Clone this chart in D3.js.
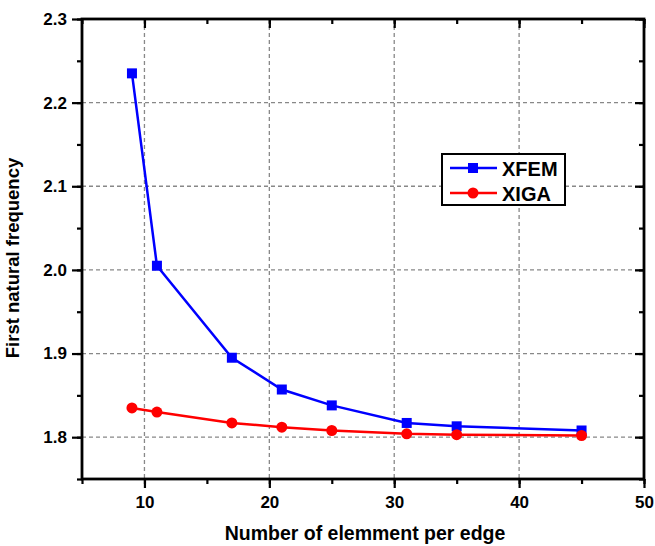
<!DOCTYPE html>
<html>
<head>
<meta charset="utf-8">
<script src="https://cdn.jsdelivr.net/npm/d3@7"></script>
<style>
  body { margin: 0; background: #fff; }
  text { font-family: "Liberation Sans", Arial, sans-serif; font-weight: bold; }
</style>
</head>
<body>
<svg id="chart" width="655" height="546"></svg>
<script>
var elements = [9, 11, 17, 21, 25, 31, 35, 45];
var xfem = [2.235, 2.005, 1.895, 1.857, 1.838, 1.817, 1.813, 1.808];
var xiga = [1.835, 1.830, 1.817, 1.812, 1.808, 1.804, 1.803, 1.802];
var xTicks = [10, 20, 30, 40, 50];
var yTicks = [1.8, 1.9, 2.0, 2.1, 2.2, 2.3];

var plotL = 82, plotR = 644, plotT = 19, plotB = 479;

var svg = d3.select("#chart");

var x = d3.scaleLinear().domain([5, 50]).range([plotL, plotR]);
var y = d3.scaleLinear().domain([1.75, 2.3]).range([plotB, plotT]);

// grid
var grid = svg.append("g")
    .attr("stroke", "#888")
    .attr("stroke-width", 1.3)
    .attr("stroke-dasharray", "4,3");
grid.selectAll("line.v").data([10, 20, 30, 40]).enter().append("line")
    .attr("x1", d => x(d)).attr("x2", d => x(d))
    .attr("y1", plotT).attr("y2", plotB);
grid.selectAll("line.h").data([1.8, 1.9, 2.0, 2.1, 2.2]).enter().append("line")
    .attr("x1", plotL).attr("x2", plotR)
    .attr("y1", d => y(d)).attr("y2", d => y(d));

// axes
function styleAxis(g){
    g.select(".domain").remove();
    g.selectAll("line").attr("stroke", "#000").attr("stroke-width", 2.2);
    g.selectAll("text").attr("font-size", 17).attr("fill", "#000");
}
var xMinor = d3.range(5, 51, 5);
var yMinor = d3.range(1.75, 2.301, 0.05);

svg.append("g").attr("transform", "translate(0," + plotB + ")")
    .call(d3.axisBottom(x).tickValues(xMinor).tickSize(5).tickFormat(""))
    .call(styleAxis);
svg.append("g").attr("transform", "translate(0," + plotB + ")")
    .call(d3.axisBottom(x).tickValues(xTicks).tickSize(9).tickPadding(8).tickFormat(d3.format("d")))
    .call(styleAxis);
svg.append("g").attr("transform", "translate(0," + plotT + ")")
    .call(d3.axisTop(x).tickValues(xMinor).tickSize(-5).tickFormat(""))
    .call(styleAxis);
svg.append("g").attr("transform", "translate(0," + plotT + ")")
    .call(d3.axisTop(x).tickValues(xTicks).tickSize(-9).tickFormat(""))
    .call(styleAxis);

svg.append("g").attr("transform", "translate(" + plotL + ",0)")
    .call(d3.axisLeft(y).tickValues(yMinor).tickSize(5).tickFormat(""))
    .call(styleAxis);
svg.append("g").attr("transform", "translate(" + plotL + ",0)")
    .call(d3.axisLeft(y).tickValues(yTicks).tickSize(10).tickPadding(5).tickFormat(d3.format(".1f")))
    .call(styleAxis);
svg.append("g").attr("transform", "translate(" + plotR + ",0)")
    .call(d3.axisRight(y).tickValues(yMinor).tickSize(-5).tickFormat(""))
    .call(styleAxis);
svg.append("g").attr("transform", "translate(" + plotR + ",0)")
    .call(d3.axisRight(y).tickValues(yTicks).tickSize(-9).tickFormat(""))
    .call(styleAxis);

svg.append("rect")
    .attr("x", plotL).attr("y", plotT)
    .attr("width", plotR - plotL).attr("height", plotB - plotT)
    .attr("fill", "none").attr("stroke", "#000").attr("stroke-width", 2.8);

// series
var line = d3.line().x(d => x(d[0])).y(d => y(d[1]));
var xfemPts = elements.map((e, i) => [e, xfem[i]]);
var xigaPts = elements.map((e, i) => [e, xiga[i]]);

svg.append("path").datum(xigaPts).attr("d", line)
    .attr("fill", "none").attr("stroke", "#ff0000").attr("stroke-width", 2.5);
svg.append("path").datum(xfemPts).attr("d", line)
    .attr("fill", "none").attr("stroke", "#0000ff").attr("stroke-width", 2.5);

svg.selectAll("rect.xfem").data(xfemPts).enter().append("rect")
    .attr("x", d => x(d[0]) - 5).attr("y", d => y(d[1]) - 5)
    .attr("width", 10).attr("height", 10).attr("fill", "#0000ff");
svg.selectAll("circle.xiga").data(xigaPts).enter().append("circle")
    .attr("cx", d => x(d[0])).attr("cy", d => y(d[1]))
    .attr("r", 5.5).attr("fill", "#ff0000");

// legend
var lg = svg.append("g").attr("transform", "translate(442,154)");
lg.append("rect").attr("width", 123).attr("height", 51)
    .attr("fill", "#fff").attr("stroke", "#000").attr("stroke-width", 2);
var legendItems = [["XFEM", "#0000ff", "square"], ["XIGA", "#ff0000", "circle"]];
legendItems.forEach(function(item, i){
    var yy = 14 + i * 25;
    lg.append("line").attr("x1", 8).attr("x2", 55).attr("y1", yy).attr("y2", yy)
        .attr("stroke", item[1]).attr("stroke-width", 2.5);
    if (item[2] === "square") {
        lg.append("rect").attr("x", 26).attr("y", yy - 5).attr("width", 10).attr("height", 10).attr("fill", item[1]);
    } else {
        lg.append("circle").attr("cx", 31).attr("cy", yy).attr("r", 5.5).attr("fill", item[1]);
    }
    lg.append("text").attr("x", 60).attr("y", yy + 8).attr("font-size", 20).text(item[0]);
});

// axis titles
svg.append("text")
    .attr("x", 365).attr("y", 540)
    .attr("text-anchor", "middle").attr("font-size", 19.5)
    .text("Number of elemment per edge");
svg.append("text")
    .attr("transform", "translate(19,258) rotate(-90)")
    .attr("text-anchor", "middle").attr("font-size", 18.5)
    .text("First natural frequency");
</script>
</body>
</html>
